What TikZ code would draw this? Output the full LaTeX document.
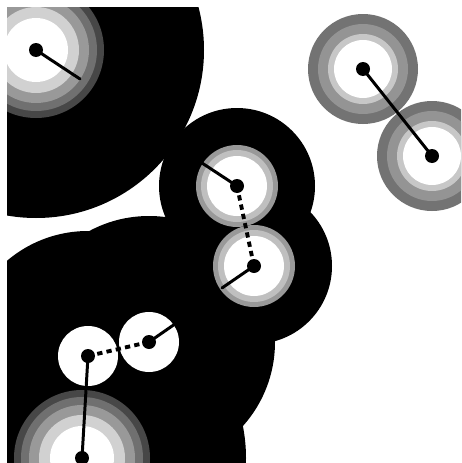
\documentclass[tikz,border=0pt]{standalone}
\usepackage{tikz}
\usetikzlibrary{calc}

\begin{document}
\begin{tikzpicture}[x=0.02cm, y=-0.02cm,
  halo/.style={fill=black},
  rod/.style={line width=1.7pt, line cap=round},
  dashrod/.style={line width=2.2pt, dash pattern=on 3pt off 2.4pt},
  pin/.style={fill=black}
]
  \fill[white] (0,0) rectangle (461,463);
  \useasboundingbox (0,0) rectangle (461,463);
  \clip (7,7) rectangle (461,463);

  % centres
  \coordinate (tl) at (36,50);
  \coordinate (tra) at (363,69);
  \coordinate (trb) at (432,156);
  \coordinate (ma) at (237,186);
  \coordinate (mb) at (254,266);
  \coordinate (la) at (88,356);
  \coordinate (lb) at (149,342);
  \coordinate (bot) at (82,458);
  % free rod ends
  \coordinate (tlend) at (80,79);
  \coordinate (maend) at (202,163);
  \coordinate (mbend) at (222,288);
  \coordinate (lbend) at (175,324);

  % black halos
  \fill[halo] (tl) circle (168);
  \fill[halo] (bot) circle (164);
  \fill[halo] (la) circle (125);
  \fill[halo] (lb) circle (126);
  \fill[halo] (ma) circle (78);
  \fill[halo] (mb) circle (78);

  % shaded rings
  \foreach \c in {tl, bot}
    \foreach \r/\g in {68/72, 61/56, 53/40, 43/18, 32/0}
      \fill[black!\g] (\c) circle (\r);
  \foreach \c in {tra, trb}
    \foreach \r/\g in {55/55, 45/42, 35/22, 29/0}
      \fill[black!\g] (\c) circle (\r);
  \foreach \c in {ma, mb}
    \foreach \r/\g in {41/40, 36/25, 30/0}
      \fill[black!\g] (\c) circle (\r);
  \foreach \c in {la, lb}
    \fill[white] (\c) circle (30);

  % rods
  \draw[rod] (tl) -- (tlend);
  \draw[rod] (tra) -- (trb);
  \draw[rod] (ma) -- (maend);
  \draw[dashrod] (ma) -- (mb);
  \draw[rod] (mb) -- (mbend);
  \draw[dashrod] (la) -- (lb);
  \draw[rod] (lb) -- (lbend);
  \draw[rod] (la) -- (bot);

  % pins
  \foreach \c in {tl, tra, trb, ma, mb, la, lb, bot}
    \fill[pin] (\c) circle (7);
\end{tikzpicture}
\end{document}
